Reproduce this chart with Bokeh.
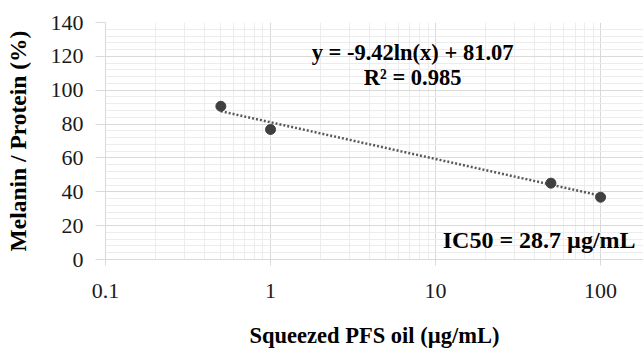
import math
from bokeh.plotting import figure
from bokeh.models import Range1d, FixedTicker, Label
from bokeh.embed import file_html
from bokeh.resources import INLINE

# data
conc = [0.5, 1, 50, 100]
melanin = [90.5, 76.8, 45.1, 36.8]
fit_a, fit_b = -9.42, 81.07
trend_x = [0.5, 100]
trend_y = [fit_a * math.log(x) + fit_b for x in trend_x]
x_ticks = [0.1, 1, 10, 100]
x_tick_labels = ["0.1", "1", "10", "100"]
y_ticks = [0, 20, 40, 60, 80, 100, 120, 140]
eq_text = "y = -9.42ln(x) + 81.07"
r2_text = "R\u00b2 = 0.985"
ic50_text = "IC50 = 28.7 \u00b5g/mL"

FONT = "Liberation Serif"

p = figure(width=643, height=350, x_axis_type="log",
           x_range=Range1d(0.1, 182), y_range=Range1d(0, 140),
           output_backend="svg", toolbar_location=None,
           min_border_left=105, min_border_right=0, min_border_top=22,
           min_border_bottom=91)
p.outline_line_color = None

minor_x = [m * 10 ** e for e in (-1, 0, 1, 2) for m in range(2, 10)]
p.xaxis.ticker = FixedTicker(ticks=x_ticks, minor_ticks=minor_x)
p.xaxis.major_label_overrides = {t: l for t, l in zip(x_ticks, x_tick_labels)}
minor_y = [v for v in range(0, 141, 4)]
p.yaxis.ticker = FixedTicker(ticks=y_ticks, minor_ticks=minor_y)

for ax in (p.xaxis, p.yaxis):
    ax.axis_line_color = "#d9d9d9"
    ax.major_tick_line_color = "#d9d9d9"
    ax.minor_tick_line_color = None
    ax.major_tick_in = 0
    ax.major_label_text_font = FONT
    ax.major_label_text_font_size = "22px"
    ax.major_label_text_color = "#1a1a1a"
    ax.axis_label_text_font = FONT
    ax.axis_label_text_font_style = "bold"
    ax.axis_label_text_color = "#000000"

p.xaxis.major_tick_out = 6
p.xaxis.major_label_standoff = 18
p.xaxis.axis_label = "Squeezed PFS oil (\u00b5g/mL)"
p.xaxis.axis_label_text_font_size = "22.5px"
p.xaxis.axis_label_standoff = 22
p.yaxis.major_tick_out = 10
p.yaxis.major_label_standoff = 12
p.yaxis.axis_label = "Melanin / Protein (%)"
p.yaxis.axis_label_text_font_size = "23.5px"
p.yaxis.axis_label_standoff = 17

for g in (p.xgrid, p.ygrid):
    g.grid_line_color = "#d9d9d9"
    g.grid_line_width = 1
    g.minor_grid_line_color = "#ececec"
    g.minor_grid_line_width = 1

p.line(trend_x, trend_y, line_color="#595959", line_width=2.5, line_dash="2 2")
p.scatter(conc, melanin, size=10, fill_color="#404040", line_color="#404040")

p.add_layout(Label(x=7.26, y=122.3, text=eq_text, text_align="center",
                   text_baseline="middle", text_font=FONT, text_font_size="22.5px",
                   text_font_style="bold", text_color="#000000"))
p.add_layout(Label(x=7.26, y=107.5, text=r2_text, text_align="center",
                   text_baseline="middle", text_font=FONT, text_font_size="22.5px",
                   text_font_style="bold", text_color="#000000"))
p.add_layout(Label(x=163, y=11.8, text=ic50_text, text_align="right",
                   text_baseline="middle", text_font=FONT, text_font_size="24px",
                   text_font_style="bold", text_color="#000000"))

open("out.html", "w").write(file_html(p, INLINE))
